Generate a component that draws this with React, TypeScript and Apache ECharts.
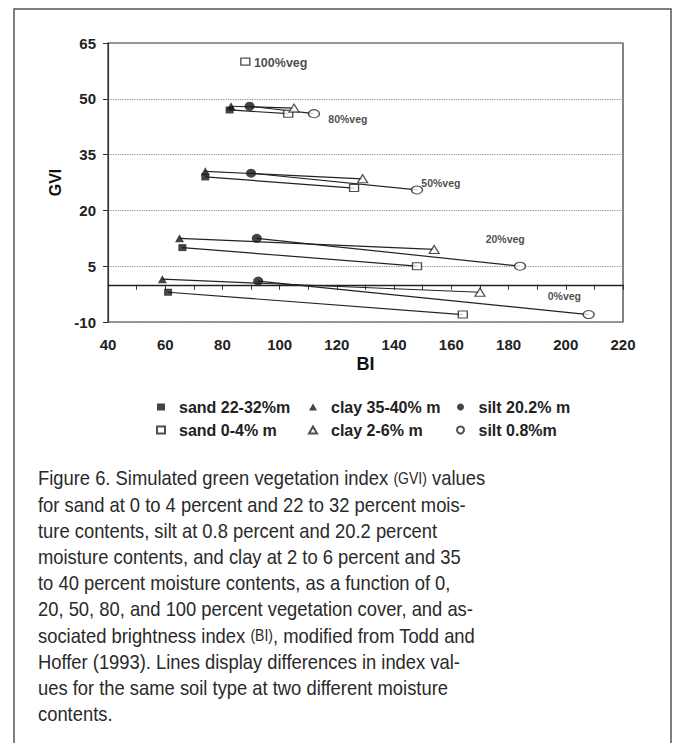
import React, { useEffect, useRef } from 'react';
import * as echarts from 'echarts';

// BI (x), GVI (y) per soil / moisture, ordered 0%, 20%, 50%, 80%, (100%) vegetation
const sandWet = [[61, -2], [66, 10], [74, 29], [82.5, 47]];
const sandDry = [[164, -8], [148, 5], [126, 26], [103, 46], [88, 60]];
const clayWet = [[59, 1.5], [65, 12.5], [74, 30.5], [83, 48]];
const clayDry = [[170, -2], [154, 9.5], [129, 28.5], [105, 47.5]];
const siltWet = [[92.5, 1], [92, 12.5], [90, 30], [89.5, 48]];
const siltDry = [[208, -8], [184, 5], [148, 25.5], [112, 46]];

const seriesNames = ['sand 22-32%m', 'sand 0-4% m', 'clay 35-40% m', 'clay 2-6% m', 'silt 20.2% m', 'silt 0.8%m'];

const vegLabels = ['100%veg', '80%veg', '50%veg', '20%veg', '0%veg'];
const vegLabelBI = [91, 117, 149.5, 172, 193.7];
const vegLabelGVI = [59.7, 44.5, 27.5, 12.4, -3];

const xTicks = { min: 40, max: 220, step: 20 };
const yTicks = { min: -10, max: 65, step: 15 };

const captionLines = [
  'Figure 6. Simulated green vegetation index {sc|(GVI)} values',
  'for sand at 0 to 4 percent and 22 to 32 percent mois-',
  'ture contents, silt at 0.8 percent and 20.2 percent',
  'moisture contents, and clay at 2 to 6 percent and 35',
  'to 40 percent moisture contents, as a function of 0,',
  '20, 50, 80, and 100 percent vegetation cover, and as-',
  'sociated brightness index {sc|(BI)}, modified from Todd and',
  'Hoffer (1993). Lines display differences in index val-',
  'ues for the same soil type at two different moisture',
  'contents.',
];

const FONT = 'Liberation Sans, Arial, Helvetica, sans-serif';
const CAPFONT = 'Liberation Sans, Arial, sans-serif';

export default function App() {
  const ref = useRef<HTMLDivElement>(null);
  useEffect(() => {
    if (!ref.current) return;
    const chart = echarts.init(ref.current, undefined, { renderer: 'svg' });

    const filled = { color: '#151515' };
    const open = { color: '#ffffff', borderColor: '#222', borderWidth: 1.2 };

    const pairs: [number[][], number[][]][] = [
      [sandWet, sandDry],
      [clayWet, clayDry],
      [siltWet, siltDry],
    ];
    const lineSeries: any[] = [];
    pairs.forEach(([wet, dry]) => {
      wet.forEach((p, i) => {
        lineSeries.push({
          type: 'line',
          data: [p, dry[i]],
          symbol: 'none',
          silent: true,
          z: 1,
          lineStyle: { color: '#222', width: 1.2 },
        });
      });
    });

    const scatter = (name: string, data: number[][], symbol: string, size: any, style: any) => ({
      name,
      type: 'scatter',
      data,
      symbol,
      symbolSize: size,
      itemStyle: style,
      z: 3,
    });

    const option: any = {
      animation: false,
      backgroundColor: '#fff',
      grid: { left: 108, top: 43, right: 55, bottom: 421, show: true, borderColor: '#333', borderWidth: 1.2, containLabel: false },
      xAxis: {
        type: 'value',
        min: xTicks.min,
        max: xTicks.max,
        interval: xTicks.step,
        name: 'BI',
        nameLocation: 'middle',
        nameGap: 33,
        nameTextStyle: { fontFamily: FONT, fontSize: 18, fontWeight: 'bold', color: '#111' },
        axisLine: { show: true, lineStyle: { color: '#333', width: 1.2 } },
        axisTick: { show: true, length: 5, lineStyle: { color: '#333' } },
        minorTick: { show: true, splitNumber: 2, length: 5, lineStyle: { color: '#333' } },
        axisLabel: { fontFamily: FONT, fontSize: 15, fontWeight: 'bold', color: '#222', margin: 15 },
        splitLine: { show: false },
      },
      yAxis: {
        type: 'value',
        min: yTicks.min,
        max: yTicks.max,
        interval: yTicks.step,
        name: 'GVI',
        nameLocation: 'middle',
        nameGap: 41,
        nameRotate: 90,
        nameTextStyle: { fontFamily: FONT, fontSize: 16, fontWeight: 'bold', color: '#111' },
        axisLine: { show: true, lineStyle: { color: '#333', width: 1.2 } },
        axisTick: { show: true, length: 5, lineStyle: { color: '#333' } },
        axisLabel: { fontFamily: FONT, fontSize: 15, fontWeight: 'bold', color: '#222', margin: 12 },
        splitLine: { show: true, lineStyle: { color: '#8a8a8a', type: 'dotted', width: 1.2 } },
      },
      legend: [
        [seriesNames[0], seriesNames[1], 156],
        [seriesNames[2], seriesNames[3], 308],
        [seriesNames[4], seriesNames[5], 456],
      ].map(([a, b, left]) => ({
        data: [a, b],
        orient: 'vertical',
        left,
        top: 399,
        padding: 0,
        itemGap: 7,
        itemWidth: 8,
        itemHeight: 7,
        textStyle: { fontFamily: FONT, fontSize: 16, fontWeight: 'bold', color: '#222', padding: [0, 0, 0, 9] },
      })),
      series: [
        ...lineSeries,
        scatter(seriesNames[0], sandWet, 'rect', [8, 7], filled),
        scatter(seriesNames[1], sandDry, 'rect', [9, 7], open),
        scatter(seriesNames[2], clayWet, 'triangle', [9, 8], filled),
        scatter(seriesNames[3], clayDry, 'triangle', [10, 8], open),
        scatter(seriesNames[4], siltWet, 'circle', [10, 9], filled),
        scatter(seriesNames[5], siltDry, 'circle', [11, 8], open),
        {
          type: 'scatter',
          silent: true,
          symbolSize: 0,
          z: 4,
          data: vegLabels.map((t, i) => ({
            name: t,
            value: [vegLabelBI[i], vegLabelGVI[i]],
            label: { fontSize: i === 0 ? 12.5 : 10.5 },
          })),
          label: {
            show: true,
            position: 'right',
            distance: 0,
            formatter: '{b}',
            fontFamily: FONT,
            fontWeight: 'bold',
            color: '#1a1a1a',
          },
          markLine: {
            silent: true,
            symbol: 'none',
            label: { show: false },
            lineStyle: { color: '#222', type: 'solid', width: 1.3 },
            data: [{ yAxis: 0 }],
          },
        },
      ],
      graphic: [
        {
          type: 'rect',
          shape: { x: 14, y: 9, width: 657, height: 800 },
          style: { fill: 'none', stroke: '#555', lineWidth: 1.5 },
          silent: true,
        },
        ...captionLines.map((line, i) => ({
          type: 'text',
          x: 38,
          y: 478 + i * 26.2,
          scaleX: 0.875,
          style: {
            text: line,
            fontFamily: CAPFONT,
            fontSize: 21,
            fill: '#2a2a2a',
            textVerticalAlign: 'middle',
            verticalAlign: 'middle',
            rich: {
              sc: { fontFamily: CAPFONT, fontSize: 16, fill: '#2a2a2a' },
            },
          },
        })),
      ],
    };
    chart.setOption(option);
    return () => chart.dispose();
  }, []);
  return <div ref={ref} style={{ position: 'absolute', left: 0, top: 0, width: 678, height: 743 }} />;
}
